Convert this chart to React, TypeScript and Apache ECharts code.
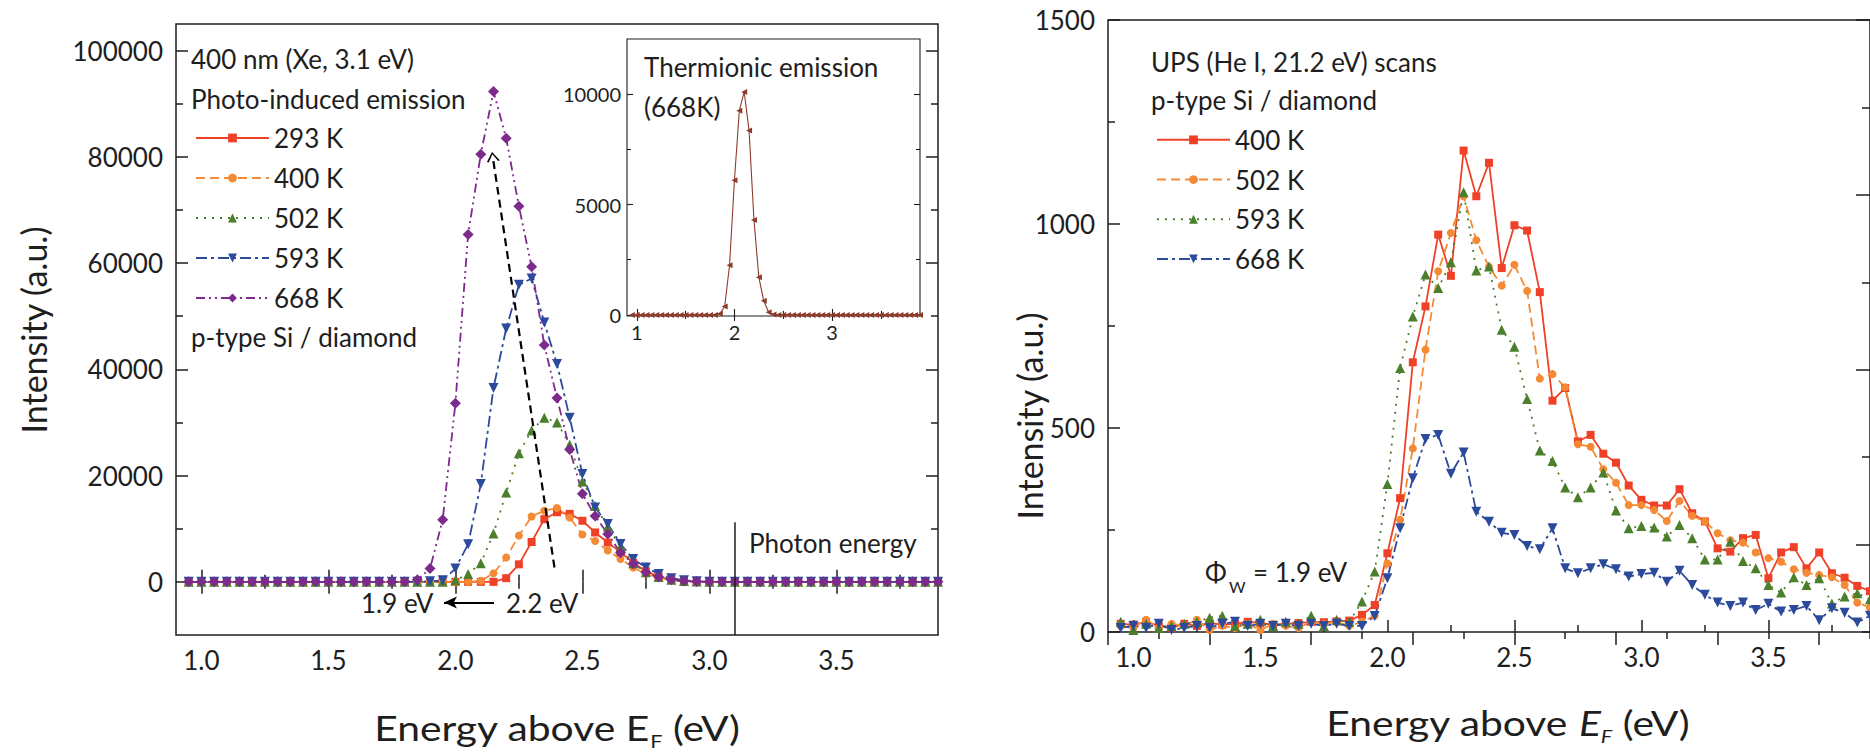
import React, { useEffect, useRef } from "react";
import * as echarts from "echarts";

// ---------- data ----------
const ENERGY = [0.95, 1.0, 1.05, 1.1, 1.15, 1.2, 1.25, 1.3, 1.35, 1.4, 1.45, 1.5, 1.55, 1.6, 1.65, 1.7, 1.75, 1.8, 1.85, 1.9, 1.95, 2.0, 2.05, 2.1, 2.15, 2.2, 2.25, 2.3, 2.35, 2.4, 2.45, 2.5, 2.55, 2.6, 2.65, 2.7, 2.75, 2.8, 2.85, 2.9, 2.95, 3.0, 3.05, 3.1, 3.15, 3.2, 3.25, 3.3, 3.35, 3.4, 3.45, 3.5, 3.55, 3.6, 3.65, 3.7, 3.75, 3.8, 3.85, 3.9];

// Left panel: photo-induced emission (400 nm)
const PIE_293K = [0, 0, 0, 0, 0, 0, 0, 0, 0, 0, 0, 0, 0, 0, 0, 0, 0, 0, 0, 0, 0, 0, 0, 0, 0, 700, 3300, 7500, 11800, 13100, 12800, 11500, 9300, 7400, 5600, 3600, 2000, 1000, 400, 150, 50, 0, 0, 0, 0, 0, 0, 0, 0, 0, 0, 0, 0, 0, 0, 0, 0, 0, 0, 0];
const PIE_400K = [0, 0, 0, 0, 0, 0, 0, 0, 0, 0, 0, 0, 0, 0, 0, 0, 0, 0, 0, 0, 0, 0, 0, 200, 1600, 4600, 8700, 12300, 13400, 13900, 12100, 8900, 7700, 5900, 4300, 2700, 1500, 800, 300, 100, 0, 0, 0, 0, 0, 0, 0, 0, 0, 0, 0, 0, 0, 0, 0, 0, 0, 0, 0, 0];
const PIE_502K = [0, 0, 0, 0, 0, 0, 0, 0, 0, 0, 0, 0, 0, 0, 0, 0, 0, 0, 0, 0, 0, 300, 1500, 3500, 9100, 16800, 24200, 28500, 30900, 30000, 25800, 18900, 14300, 10400, 6500, 3500, 1800, 900, 400, 150, 50, 0, 0, 0, 0, 0, 0, 0, 0, 0, 0, 0, 0, 0, 0, 0, 0, 0, 0, 0];
const PIE_593K = [0, 0, 0, 0, 0, 0, 0, 0, 0, 0, 0, 0, 0, 0, 0, 0, 0, 0, 0, 100, 300, 2500, 7100, 18400, 36500, 47700, 55900, 57100, 48800, 41000, 30900, 20300, 14000, 10900, 7150, 4300, 2700, 1500, 700, 300, 100, 0, 0, 0, 0, 0, 0, 0, 0, 0, 0, 0, 0, 0, 0, 0, 0, 0, 0, 0];
const PIE_668K = [0, 0, 0, 0, 0, 0, 0, 0, 0, 0, 0, 0, 0, 0, 0, 0, 0, 0, 400, 2500, 11700, 33600, 65400, 80500, 92300, 83500, 70700, 59300, 44600, 34600, 24900, 16600, 12400, 9000, 5500, 3400, 1800, 900, 400, 150, 50, 0, 0, 0, 0, 0, 0, 0, 0, 0, 0, 0, 0, 0, 0, 0, 0, 0, 0, 0];

// Inset: thermionic emission (668 K)
const THERMIONIC_668K = [0, 0, 0, 0, 0, 0, 0, 0, 0, 0, 0, 0, 0, 0, 0, 0, 0, 0, 50, 380, 2250, 6100, 9250, 10100, 8350, 4300, 1700, 640, 120, 20, 0, 0, 0, 0, 0, 0, 0, 0, 0, 0, 0, 0, 0, 0, 0, 0, 0, 0, 0, 0, 0, 0, 0, 0, 0, 0, 0, 0, 0, 0];

// Right panel: UPS (He I) scans
const UPS_400K = [20, 18, 25, 15, 10, 20, 15, 22, 18, 20, 25, 22, 18, 20, 22, 25, 24, 26, 28, 42, 66, 193, 328, 661, 798, 974, 873, 1180, 1068, 1150, 892, 997, 984, 833, 567, 598, 467, 483, 437, 415, 359, 324, 310, 310, 350, 291, 271, 205, 197, 230, 238, 132, 195, 208, 156, 195, 144, 133, 113, 100];
const UPS_502K = [15, 10, 30, 10, 20, 15, 30, 5, 15, 10, 20, 5, 20, 15, 10, 25, 20, 25, 15, 25, 40, 168, 275, 450, 692, 884, 978, 1068, 960, 895, 849, 900, 836, 621, 632, 600, 460, 454, 399, 366, 311, 311, 299, 272, 321, 285, 271, 242, 225, 219, 195, 181, 172, 154, 145, 140, 134, 115, 72, 60];
const UPS_593K = [25, 5, 20, 10, 15, 20, 25, 35, 40, 15, 20, 30, 15, 25, 20, 40, 15, 30, 25, 75, 148, 363, 647, 773, 876, 843, 906, 1078, 886, 896, 741, 699, 571, 445, 419, 354, 330, 354, 391, 298, 254, 260, 256, 234, 262, 230, 178, 178, 221, 174, 156, 115, 97, 134, 115, 132, 70, 87, 95, 80];
const UPS_668K = [10, 15, 10, 20, 5, 10, 15, 10, 20, 25, 15, 20, 15, 20, 15, 20, 15, 20, 15, 15, 39, 132, 254, 377, 473, 483, 388, 440, 295, 270, 243, 238, 211, 203, 254, 156, 144, 156, 166, 154, 136, 142, 145, 123, 150, 115, 91, 72, 64, 72, 54, 69, 50, 54, 64, 29, 58, 47, 23, 40];

// Tick values
const X_LABELS = [1.0, 1.5, 2.0, 2.5, 3.0, 3.5];
const X_MINOR = [1.25, 1.75, 2.25, 2.75, 3.25, 3.75];
const LEFT_Y_LABELS = [0, 20000, 40000, 60000, 80000, 100000];
const LEFT_Y_MINOR = [10000, 30000, 50000, 70000, 90000];
const INSET_X_LABELS = [1, 2, 3];
const INSET_X_MINOR = [1.5, 2.5, 3.5];
const INSET_Y_LABELS = [0, 5000, 10000];
const INSET_Y_MINOR = [2500, 7500];
const RIGHT_Y_LABELS = [0, 500, 1000, 1500];
const RIGHT_Y_MINOR = [250, 750, 1250];
const RIGHT_TOP_MAJOR = [0, 2, 4, 6, 8, 10, 12, 14];
const RIGHT_TOP_MINOR = [1, 3, 5, 7, 9, 11, 13, 15];
const RIGHT_RIGHT_MAJOR = [1, 3, 5, 7];
const RIGHT_RIGHT_MINOR = [0, 2, 4, 6];

// ---------- style ----------
const FONT = "Lato, 'DejaVu Sans', sans-serif";
const INK = "#1e1e1e";
const RED = "#EE4127";
const ORANGE = "#F58A34";
const GREEN = "#4B7F2B";
const BLUE = "#2C4A9C";
const PURPLE = "#7C2A8C";
const BROWN = "#8E3B2C";

function tickOnly(base: any, values: number[], len: number, width = 1.5) {
  return {
    ...base,
    axisLine: { show: false },
    splitLine: { show: false },
    axisLabel: { show: false },
    axisTick: { show: true, inside: true, length: len, customValues: values, lineStyle: { color: INK, width } },
  };
}

function labelled(base: any, ticks: number[], len: number, labels: number[], fmt: (v: number) => string, size: number, margin: number, width = 1.5) {
  return {
    ...base,
    axisLine: { show: false },
    splitLine: { show: false },
    axisTick: { show: true, inside: true, length: len, customValues: ticks, lineStyle: { color: INK, width } },
    axisLabel: { show: true, customValues: labels, formatter: fmt, fontSize: size, fontFamily: FONT, color: INK, margin },
  };
}

function series(name: string, values: number[], xi: number, yi: number, color: string, dash: any, symbol: string, size: number, rotate = 0, width = 1.8) {
  return {
    type: "line",
    name,
    xAxisIndex: xi,
    yAxisIndex: yi,
    data: ENERGY.map((e, i) => [e, values[i]]),
    symbol,
    symbolSize: size,
    symbolRotate: rotate,
    showSymbol: true,
    lineStyle: { color, width, type: dash },
    itemStyle: { color, borderWidth: 0 },
    emphasis: { disabled: true },
    animation: false,
  };
}

function measure(text: string, size: number, italic: boolean) {
  const c = document.createElement("canvas").getContext("2d") as CanvasRenderingContext2D;
  c.font = `${italic ? "italic " : ""}${size}px Lato`;
  return c.measureText(text).width;
}

function txt(text: string, x: number, y: number, size = 26, align = "left", extra: any = {}) {
  return {
    type: "text",
    x,
    y,
    silent: true,
    ...extra,
    style: {
      text,
      fontSize: size,
      fontFamily: FONT,
      fill: INK,
      align,
      textAlign: align,
      verticalAlign: "middle",
      textVerticalAlign: "middle",
      ...(extra.style || {}),
    },
  };
}

function pieces(list: { t: string; s: number; it?: boolean; dy?: number }[], cx: number, cy: number, sx: number) {
  const ws = list.map((p) => measure(p.t, p.s, !!p.it) * sx);
  const total = ws.reduce((a, b) => a + b, 0);
  let x = cx - total / 2;
  return list.map((p, i) => {
    const el = txt(p.t, x, cy + (p.dy || 0), p.s, "left", { scaleX: sx, style: { fontStyle: p.it ? "italic" : "normal" } });
    x += ws[i];
    return el;
  });
}

const CHEVRON = "path://M0 12 L6 0 L12 12 L10.4 12.8 L6 3.2 L1.6 12.8 Z";

export default function App() {
  const ref = useRef<HTMLDivElement>(null);

  useEffect(() => {
    if (!ref.current) return;
    const chart = echarts.init(ref.current, undefined, { renderer: "svg" });

    const g0 = { type: "value", gridIndex: 0, min: 0.9, max: 3.9 };
    const g1 = { type: "value", gridIndex: 1, min: 0.9, max: 3.9 };
    const g2 = { type: "value", gridIndex: 2, min: 0.9, max: 3.9 };
    const fx = (v: number) => v.toFixed(1);
    const fi = (v: number) => String(v);

    const xAxis = [
      labelled({ ...g0, position: "bottom" }, X_LABELS, 12, X_LABELS, fx, 26, 12),
      tickOnly({ ...g0, position: "bottom" }, X_MINOR, 7),
      tickOnly({ ...g0, position: "top" }, X_LABELS, 12),
      tickOnly({ ...g0, position: "top" }, X_MINOR, 7),
      labelled({ ...g1, position: "bottom" }, INSET_X_LABELS, 6, INSET_X_LABELS, fi, 20, 6, 1.1),
      tickOnly({ ...g1, position: "bottom" }, INSET_X_MINOR, 4, 1.1),
      tickOnly({ ...g1, position: "top" }, INSET_X_LABELS, 6, 1.1),
      tickOnly({ ...g1, position: "top" }, INSET_X_MINOR, 4, 1.1),
      labelled({ ...g2, position: "bottom" }, X_LABELS, 12, X_LABELS, fx, 26, 12),
      tickOnly({ ...g2, position: "bottom" }, X_MINOR, 7),
      tickOnly({ type: "value", gridIndex: 2, min: 0, max: 15, position: "top" }, RIGHT_TOP_MAJOR, 13),
      tickOnly({ type: "value", gridIndex: 2, min: 0, max: 15, position: "top" }, RIGHT_TOP_MINOR, 7),
    ];

    const y0 = { type: "value", gridIndex: 0, min: -10000, max: 105000 };
    const y1 = { type: "value", gridIndex: 1, min: -50, max: 12500 };
    const y2 = { type: "value", gridIndex: 2, min: 0, max: 1500 };
    const yAxis = [
      labelled({ ...y0, position: "left" }, LEFT_Y_LABELS, 12, LEFT_Y_LABELS, fi, 26, 13),
      tickOnly({ ...y0, position: "left" }, LEFT_Y_MINOR, 7),
      tickOnly({ ...y0, position: "right" }, LEFT_Y_LABELS, 12),
      tickOnly({ ...y0, position: "right" }, LEFT_Y_MINOR, 7),
      labelled({ ...y1, position: "left" }, INSET_Y_LABELS, 6, INSET_Y_LABELS, fi, 20, 6, 1.1),
      tickOnly({ ...y1, position: "left" }, INSET_Y_MINOR, 4, 1.1),
      tickOnly({ ...y1, position: "right" }, INSET_Y_LABELS, 6, 1.1),
      tickOnly({ ...y1, position: "right" }, INSET_Y_MINOR, 4, 1.1),
      labelled({ ...y2, position: "left" }, RIGHT_Y_LABELS, 12, RIGHT_Y_LABELS, fi, 26, 13),
      tickOnly({ ...y2, position: "left" }, RIGHT_Y_MINOR, 7),
      tickOnly({ type: "value", gridIndex: 2, min: 0, max: 7, position: "right" }, RIGHT_RIGHT_MAJOR, 14),
      tickOnly({ type: "value", gridIndex: 2, min: 0, max: 7, position: "right" }, RIGHT_RIGHT_MINOR, 8),
    ];

    const red293 = series("293 K", PIE_293K, 0, 0, RED, "solid", "rect", 8);
    (red293 as any).markLine = {
      silent: true,
      animation: false,
      symbol: ["none", "none"],
      label: { show: false },
      emphasis: { disabled: true },
      data: [
        [
          { coord: [3.1, 11200], lineStyle: { color: INK, width: 1.5, type: "solid" } },
          { coord: [3.1, -10000] },
        ],
        [
          { coord: [2.39, 2700], lineStyle: { color: "#000", width: 2.2, type: [8, 5] } },
          { coord: [2.147, 80000], symbol: CHEVRON, symbolSize: [13, 10] },
        ],
        [
          { coord: [2.152, -3900], lineStyle: { color: "#000", width: 2.2, type: "solid" } },
          { coord: [1.955, -3900], symbol: "arrow", symbolSize: [9, 13] },
        ],
      ],
    };

    const option: any = {
      animation: false,
      backgroundColor: "#ffffff",
      grid: [
        { left: 176, top: 24, width: 762, height: 611, show: true, borderColor: INK, borderWidth: 1.5, backgroundColor: "transparent" },
        { left: 627, top: 39, width: 293, height: 277, show: true, borderColor: INK, borderWidth: 1.1, backgroundColor: "transparent" },
        { left: 1108, top: 20, width: 768, height: 612, show: true, borderColor: INK, borderWidth: 1.5, backgroundColor: "transparent" },
      ],
      xAxis,
      yAxis,
      legend: [
        {
          data: ["293 K", "400 K", "502 K", "593 K", "668 K"],
          orient: "vertical",
          left: 190,
          top: 113,
          itemWidth: 73,
          itemHeight: 11,
          itemGap: 0,
          selectedMode: false,
          textStyle: { fontSize: 26, fontFamily: FONT, color: INK, lineHeight: 40 },
        },
        {
          data: ["400 K ", "502 K ", "593 K ", "668 K "],
          orient: "vertical",
          left: 1151,
          top: 115,
          itemWidth: 73,
          itemHeight: 11,
          itemGap: 0,
          selectedMode: false,
          formatter: (n: string) => n.trim(),
          textStyle: { fontSize: 26, fontFamily: FONT, color: INK, lineHeight: 39.7 },
        },
      ],
      series: [
        red293,
        series("400 K", PIE_400K, 0, 0, ORANGE, [9, 5], "circle", 8),
        series("502 K", PIE_502K, 0, 0, GREEN, [2, 6], "triangle", 10),
        series("593 K", PIE_593K, 0, 0, BLUE, [11, 4, 3, 4], "triangle", 10, 180),
        series("668 K", PIE_668K, 0, 0, PURPLE, [9, 4, 2, 4, 2, 4], "diamond", 11),
        series("Thermionic 668 K", THERMIONIC_668K, 4, 4, BROWN, "solid", "triangle", 6, 90, 1.1),
        series("400 K ", UPS_400K, 8, 8, RED, "solid", "rect", 8),
        series("502 K ", UPS_502K, 8, 8, ORANGE, [9, 5], "circle", 8),
        series("593 K ", UPS_593K, 8, 8, GREEN, [2, 6], "triangle", 10),
        series("668 K ", UPS_668K, 8, 8, BLUE, [11, 4, 3, 4], "triangle", 10, 180),
      ],
      graphic: {
        elements: [
          txt("400 nm (Xe, 3.1 eV)", 191, 59),
          txt("Photo-induced emission", 191, 99),
          txt("p-type Si / diamond", 191, 337),
          txt("Thermionic emission", 644, 67),
          txt("(668K)", 644, 107),
          txt("Photon energy", 749, 543),
          txt("1.9 eV", 361, 603),
          txt("2.2 eV", 506, 603),
          txt("UPS (He I, 21.2 eV) scans", 1151, 62),
          txt("p-type Si / diamond", 1151, 100),
          txt("Φ", 1205, 572),
          txt("W", 1229, 586, 16),
          txt("= 1.9 eV", 1253, 572),
          txt("Intensity (a.u.)", 33, 330, 34, "center", { rotation: Math.PI / 2 }),
          txt("Intensity (a.u.)", 1029, 416, 34, "center", { rotation: Math.PI / 2 }),
          ...pieces(
            [
              { t: "Energy above E", s: 34 },
              { t: "F", s: 18, dy: 13 },
              { t: " (eV)", s: 34 },
            ],
            557,
            728,
            1.2
          ),
          ...pieces(
            [
              { t: "Energy above ", s: 34 },
              { t: "E", s: 34, it: true },
              { t: "F", s: 18, it: true, dy: 13 },
              { t: " (eV)", s: 34 },
            ],
            1508,
            723,
            1.2
          ),
        ],
      },
    };

    chart.setOption(option);
    return () => chart.dispose();
  }, []);

  return (
    <div
      ref={ref}
      style={{ position: "absolute", left: 0, top: 0, width: 1870, height: 756, background: "#fff" }}
    />
  );
}
